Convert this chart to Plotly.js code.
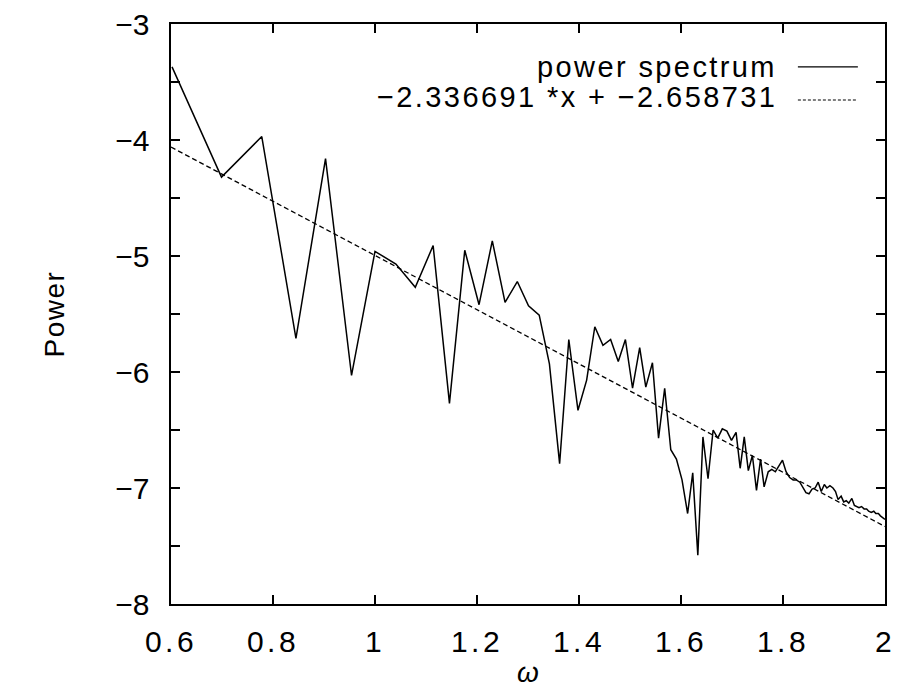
<!DOCTYPE html>
<html>
<head>
<meta charset="utf-8">
<script src="https://cdn.plot.ly/plotly-3.0.1.min.js"></script>
<style>
  html, body { margin: 0; padding: 0; background: #fff; }
  #chart { width: 897px; height: 688px; }
  .xtick text { letter-spacing: 3.5px; }
  .annotation-text { letter-spacing: 2.4px; }
  .ytitle { letter-spacing: 1.5px; }
</style>
</head>
<body>
<div id="chart"></div>
<script>
// omega values (x) of the power spectrum samples
const omega = [
  0.602, 0.699, 0.778, 0.845, 0.903, 0.954, 1.000, 1.041, 1.079, 1.114,
  1.146, 1.176, 1.204, 1.230, 1.255, 1.279, 1.301, 1.322, 1.342, 1.362,
  1.380, 1.398, 1.415, 1.431, 1.447, 1.462, 1.477, 1.491, 1.505, 1.519,
  1.531, 1.544, 1.556, 1.568, 1.580, 1.591, 1.602, 1.613, 1.623, 1.633,
  1.643, 1.653, 1.663, 1.672, 1.681, 1.690, 1.699, 1.708, 1.716, 1.724,
  1.732, 1.740, 1.748, 1.756, 1.763, 1.771, 1.778, 1.785, 1.792, 1.799,
  1.806, 1.813, 1.820, 1.826, 1.833, 1.839, 1.845, 1.851, 1.857, 1.863,
  1.869, 1.875, 1.881, 1.886, 1.892, 1.898, 1.903, 1.908, 1.914, 1.919,
  1.924, 1.929, 1.935, 1.940, 1.944, 1.949, 1.954, 1.959, 1.964, 1.968,
  1.973, 1.978, 1.982, 1.987, 1.991, 1.996, 2.000
];
// power values
const power = [
  -3.37, -4.32, -3.97, -5.71, -4.16, -6.03, -4.96, -5.07, -5.27, -4.91,
  -6.27, -4.95, -5.42, -4.87, -5.40, -5.22, -5.43, -5.51, -5.93, -6.79,
  -5.72, -6.33, -6.07, -5.61, -5.77, -5.72, -5.91, -5.72, -6.14, -5.79,
  -6.13, -5.92, -6.57, -6.14, -6.67, -6.75, -6.93, -7.22, -6.87, -7.58,
  -6.56, -6.92, -6.50, -6.57, -6.49, -6.51, -6.59, -6.52, -6.83, -6.56,
  -6.85, -6.72, -7.02, -6.75, -6.99, -6.86, -6.84, -6.86, -6.81, -6.76,
  -6.86, -6.91, -6.93, -6.93, -6.95, -6.99, -7.04, -7.05, -7.01, -7.00,
  -6.95, -7.03, -6.97, -7.00, -6.98, -7.00, -7.03, -7.10, -7.07, -7.12,
  -7.11, -7.13, -7.09, -7.15, -7.16, -7.17, -7.16, -7.18, -7.18, -7.20,
  -7.21, -7.20, -7.22, -7.22, -7.24, -7.26, -7.27
];
// fitted line  y = slope * x + intercept
const fitSlope = -2.336691;
const fitIntercept = -2.658731;
const fitX = [0.6, 2.0];
const fitY = fitX.map(x => fitSlope * x + fitIntercept);

const seriesNames = ["power spectrum", "\u22122.336691 *x + \u22122.658731"];
const xTickVals = [0.6, 0.8, 1.0, 1.2, 1.4, 1.6, 1.8, 2.0];
const xTickText = ["0.6", "0.8", "1", "1.2", "1.4", "1.6", "1.8", "2"];
const yTickVals = [-8, -7, -6, -5, -4, -3];

const FONT = "Liberation Sans, Arial, sans-serif";

const traces = [
  {
    x: omega, y: power, name: seriesNames[0], type: "scatter", mode: "lines",
    line: { color: "#000", width: 1.5 }
  },
  {
    x: fitX, y: fitY, name: seriesNames[1], type: "scatter", mode: "lines",
    line: { color: "#000", width: 1.3, dash: "5px,3px" }
  }
];

const layout = {
  width: 897, height: 688,
  margin: { l: 171, r: 12, t: 24, b: 84, pad: 0 },
  paper_bgcolor: "#fff", plot_bgcolor: "#fff",
  showlegend: false,
  font: { family: FONT, size: 30, color: "#000" },
  xaxis: {
    range: [0.6, 2.0],
    tickvals: xTickVals, ticktext: xTickText,
    ticks: "inside", ticklen: 9, tickwidth: 1.3, tickcolor: "#000",
    showline: true, linewidth: 1.6, linecolor: "#000", mirror: "ticks",
    showgrid: false, zeroline: false,
    tickfont: { family: FONT, size: 30, color: "#000" },
    ticklabelstandoff: 10,
    title: { text: "<i>ω</i>", font: { family: FONT, size: 28, color: "#000" }, standoff: 18 }
  },
  yaxis: {
    range: [-8, -3],
    tickvals: yTickVals,
    ticks: "inside", ticklen: 9, tickwidth: 1.3, tickcolor: "#000",
    minor: { dtick: 0.5, ticks: "inside", ticklen: 9, tickwidth: 1.3, tickcolor: "#000", showgrid: false },
    showline: true, linewidth: 1.6, linecolor: "#000", mirror: "ticks",
    showgrid: false, zeroline: false,
    tickfont: { family: FONT, size: 30, color: "#000" },
    ticklabelstandoff: 14,
    title: { text: "Power", font: { family: FONT, size: 28, color: "#000" }, standoff: 42 }
  },
  annotations: [
    { xref: "paper", yref: "paper", x: 0.851, y: 0.926, xanchor: "right", yanchor: "middle",
      text: seriesNames[0], showarrow: false, font: { family: FONT, size: 29, color: "#000" } },
    { xref: "paper", yref: "paper", x: 0.851, y: 0.874, xanchor: "right", yanchor: "middle",
      text: seriesNames[1], showarrow: false, font: { family: FONT, size: 29, color: "#000" } }
  ],
  shapes: [
    { type: "line", xref: "paper", yref: "paper", x0: 0.878, x1: 0.962, y0: 0.926, y1: 0.926,
      line: { color: "#000", width: 1.3 } },
    { type: "line", xref: "paper", yref: "paper", x0: 0.878, x1: 0.962, y0: 0.869, y1: 0.869,
      line: { color: "#000", width: 1.1, dash: "3px,2px" } }
  ]
};

Plotly.newPlot("chart", traces, layout, { staticPlot: true, displayModeBar: false });
</script>
</body>
</html>
